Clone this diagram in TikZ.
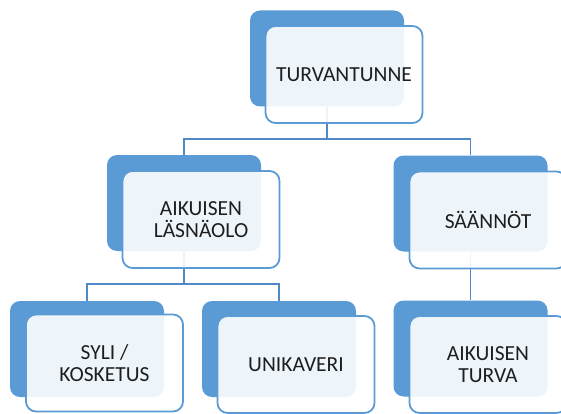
\documentclass[tikz,border=0pt]{standalone}
\usepackage{fontspec}
\setmainfont{Carlito}
\definecolor{accent}{RGB}{91,155,213}
\definecolor{linecol}{RGB}{80,137,200}
\definecolor{txt}{RGB}{30,30,30}
\begin{document}
\begin{tikzpicture}[x=1pt,y=-1pt,
  backbox/.style={draw=none,fill=accent,rounded corners=10pt,minimum width=154pt,minimum height=96pt,inner sep=0pt},
  frontbox/.style={draw=accent,line width=1.8pt,fill=white,fill opacity=0.9,text opacity=1,rounded corners=10pt,minimum width=157pt,minimum height=97pt,inner sep=0pt,align=center,text=txt,font=\fontsize{21.5}{22.5}\selectfont},
  conn/.style={draw=linecol,line width=1.8pt}]
\useasboundingbox (0,0) rectangle (561,414);
\clip (0,0) rectangle (561,414);
% back boxes
\node[backbox] (b0) at (327,58.5) {};
\node[backbox] (b1) at (184,203) {};
\node[backbox] (b2) at (470.5,203.5) {};
\node[backbox] (b3) at (87,349) {};
\node[backbox] (b4) at (279,349) {};
\node[backbox] (b5) at (470.5,348.5) {};
% connectors
\draw[conn] (b0.south) -- ++(0,32.5) -| (b1.north);
\draw[conn] (b0.south) -- ++(0,32.5) -| (b2.north);
\draw[conn] (b1.south) -- ++(0,33) -| (b3.north);
\draw[conn] (b1.south) -- ++(0,33) -| (b4.north);
\draw[conn] (b2.south) -- (b5.north);
% front boxes
\node[frontbox] (f0) at (344,74.5) {TURVANTUNNE};
\node[frontbox] (f1) at (201,219.5) {AIKUISEN\\LÄSNÄOLO};
\node[frontbox] (f2) at (488,220) {SÄÄNNÖT};
\node[frontbox] (f3) at (104.5,363) {SYLI /\\KOSKETUS};
\node[frontbox] (f4) at (296,364.5) {UNIKAVERI};
\node[frontbox] (f5) at (488,364.5) {AIKUISEN\\TURVA};
\end{tikzpicture}
\end{document}
